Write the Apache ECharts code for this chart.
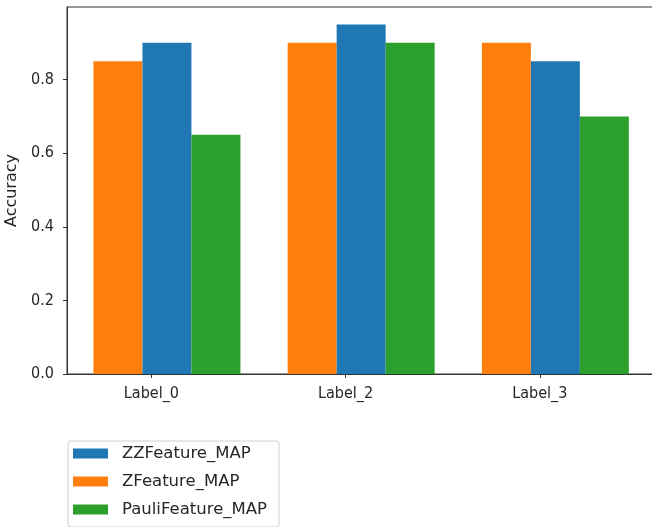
<!DOCTYPE html>
<html>
<head>
<meta charset="utf-8">
<script src="https://cdn.jsdelivr.net/npm/echarts@6/dist/echarts.min.js"></script>
<style>html,body{margin:0;padding:0;background:#fff}#c{width:652px;height:527px}</style>
</head>
<body>
<div id="c"></div>
<script>
const categories = ['Label_0', 'Label_2', 'Label_3'];
const zFeature = [0.85, 0.90, 0.90];
const zzFeature = [0.90, 0.95, 0.85];
const pauliFeature = [0.65, 0.90, 0.70];
const yTicks = [0, 0.2, 0.4, 0.6, 0.8];
const seriesNames = ['ZZFeature_MAP', 'ZFeature_MAP', 'PauliFeature_MAP'];

const groupShift = 0.08; // bar group offset from tick (layout)
const tickFont = '"DejaVu Sans Condensed", "DejaVu Sans", sans-serif';
const font = '"DejaVu Sans", sans-serif';
const toXY = arr => arr.map((v, i) => [i + groupShift, v]);
const tickPos = categories.map((c, i) => i);

const chart = echarts.init(document.getElementById('c'), null, {renderer: 'canvas'});
chart.setOption({
  animation: false,
  backgroundColor: '#fff',
  grid: {left: 67, right: -3, top: 7, bottom: 153, show: true, borderColor: '#333', borderWidth: 1, containLabel: false, outerBoundsMode: 'none'},
  legend: {
    orient: 'vertical', left: 68, top: 441,
    data: seriesNames,
    icon: 'rect',
    itemWidth: 35, itemHeight: 10, itemGap: 9,
    padding: [3, 12, 8, 5],
    borderColor: '#d0d0d0', borderWidth: 1, borderRadius: 3,
    textStyle: {fontFamily: font, fontSize: 16.5, color: '#262626', lineHeight: 19, padding: [0, 0, 0, 9]}
  },
  xAxis: {
    type: 'value', min: -0.4346, max: 2.593,
    splitLine: {show: false},
    axisLine: {show: true, onZero: false, lineStyle: {color: '#333'}},
    axisTick: {show: true, length: 4, lineStyle: {color: '#333'}, customValues: tickPos},
    axisLabel: {customValues: tickPos, formatter: v => categories[Math.round(v)], fontFamily: tickFont, fontSize: 16, color: '#262626', margin: 12}
  },
  yAxis: {
    type: 'value', min: 0, max: 0.9975,
    name: 'Accuracy', nameLocation: 'middle', nameGap: 46, nameRotate: 90,
    nameTextStyle: {fontFamily: font, fontSize: 16, color: '#262626'},
    splitLine: {show: false},
    axisLine: {show: true, onZero: false, lineStyle: {color: '#333'}},
    axisTick: {show: true, length: 4, lineStyle: {color: '#333'}, customValues: yTicks},
    axisLabel: {customValues: yTicks, formatter: v => v.toFixed(1), fontFamily: tickFont, fontSize: 16, color: '#262626', margin: 13}
  },
  series: [
    {name: 'ZFeature_MAP', type: 'bar', data: toXY(zFeature), barWidth: 49, barGap: '0%', itemStyle: {color: '#ff7f0e'}},
    {name: 'ZZFeature_MAP', type: 'bar', data: toXY(zzFeature), barWidth: 49, barGap: '0%', itemStyle: {color: '#1f77b4'}},
    {name: 'PauliFeature_MAP', type: 'bar', data: toXY(pauliFeature), barWidth: 49, barGap: '0%', itemStyle: {color: '#2ca02c'}}
  ]
});
</script>
</body>
</html>
